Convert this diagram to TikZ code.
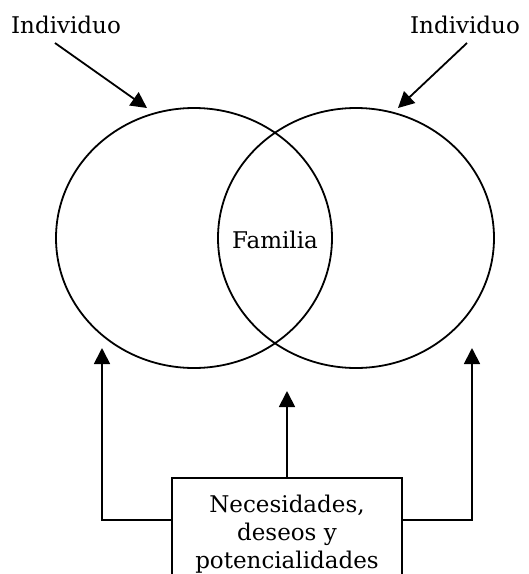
\documentclass[tikz,border=0pt]{standalone}
\usepackage{fontspec}
\setmainfont{DejaVu Serif}
\usetikzlibrary{arrows.meta}
\begin{document}
\begin{tikzpicture}[x=1pt,y=-1pt,
  line width=1.8pt,
  txt/.style={font=\fontsize{23}{28}\selectfont},
  lbl/.style={txt, inner sep=0pt, anchor=base},
  arr/.style={-{Triangle[length=16pt,width=16pt]}}]
\useasboundingbox (0,0) rectangle (529,574);
\clip (0,0) rectangle (529,574);
\fill[white] (0,0) rectangle (529,574);
% circles
\draw (194,238) ellipse [x radius=138, y radius=130];
\draw (356,238) ellipse [x radius=138, y radius=130];
% labels
\node[lbl] (lind) at (66,33) {Individuo};
\node[lbl] (rind) at (465,33) {Individuo};
\node[lbl] (fam) at (275,248) {Familia};
% box
\node[draw, anchor=north, minimum width=230pt, align=center,
      txt, inner xsep=0pt, inner ysep=17pt]
      (box) at (287,477) {Necesidades,\\deseos y\\potencialidades};
% coordinates
\coordinate (ls) at (55,43);
\coordinate (lt) at (147,108);
\coordinate (rs) at (467,43);
\coordinate (rt) at (398,108);
\coordinate (mt) at (287,391);
\coordinate (lj) at (102,520);
\coordinate (ltip) at (102,348);
\coordinate (rj) at (472,520);
\coordinate (rtip) at (472,348);
% arrows
\draw[arr] (ls) -- (lt);
\draw[arr] (rs) -- (rt);
\draw[arr] (box.north) -- (mt);
\draw[arr] (box.west |- lj) -- (lj) -- (ltip);
\draw[arr] (box.east |- rj) -- (rj) -- (rtip);
\end{tikzpicture}
\end{document}
